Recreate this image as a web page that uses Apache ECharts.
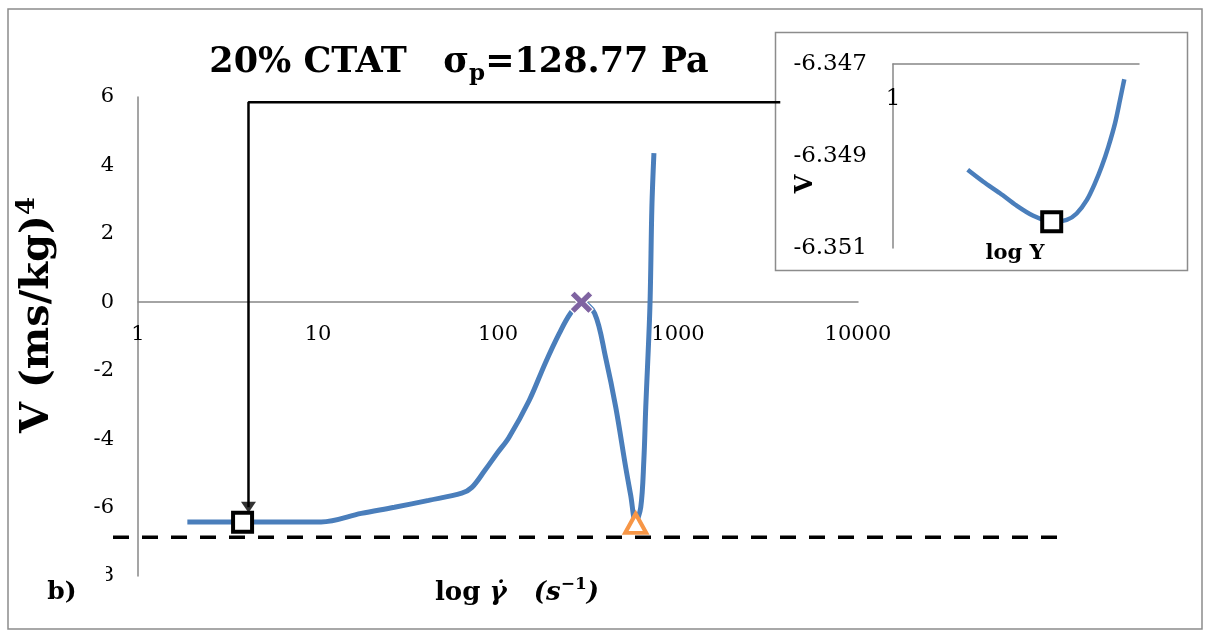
<!DOCTYPE html>
<html>
<head>
<meta charset="utf-8">
<script src="https://cdn.jsdelivr.net/npm/echarts@6/dist/echarts.min.js"></script>
<style>
html,body{margin:0;padding:0;background:#fff;}
#c{width:1206px;height:636px;}
</style>
</head>
<body>
<div id="c"></div>
<script>
// ---------- data ----------
const curveX = [1.88, 2.5, 3.81, 6, 10.4, 17.4, 26.6, 41.2, 62.9, 71.6, 84.6, 98.7, 115, 149, 183, 219, 253, 291, 344, 396, 451, 512, 546, 582, 621, 646, 662, 698, 716, 735];
const curveY = [-6.42, -6.42, -6.42, -6.42, -6.42, -6.17, -5.99, -5.79, -5.58, -5.41, -4.91, -4.42, -3.95, -2.87, -1.78, -0.91, -0.32, 0, -0.32, -1.61, -3.07, -4.82, -5.64, -6.43, -5.99, -4.62, -3.07, -0.15, 2.78, 4.36];

const squarePoint = [3.81, -6.43];
const peakPoint = [291, 0];
const troughPoint = [582, -6.46];

// dashed reference level, drawn on a wider hidden x scale (0 = left end, 1 = right end)
const dashX = [0, 1];
const dashY = -6.87;

const arrowX = [3700, 4.11, 4.11];
const arrowY = [5.85, 5.85, -5.99];

const insetX = [2.012, 2.329, 2.723, 3.183, 3.718, 4.417, 5.083, 5.580, 6.131, 6.625, 7.052, 7.505, 7.989, 8.373, 8.714];
const insetY = [-6.34930, -6.34956, -6.34981, -6.35008, -6.35030, -6.35043, -6.35039, -6.35025, -6.34996, -6.34959, -6.34923, -6.34880, -6.34829, -6.34778, -6.34733];
const insetSquare = [4.417, -6.35043];

const xTicks = [1, 10, 100, 1000, 10000];
const xTickLabels = ['1', '10', '100', '1000', '10000'];
const yTicks = [-8, -6, -4, -2, 0, 2, 4, 6];
const yTickLabels = ['-8', '-6', '-4', '-2', '0', '2', '4', '6'];
const insetYTicks = [-6.351, -6.349, -6.347];
const insetYTickLabels = ['-6.351', '-6.349', '-6.347'];
const insetXTicks = [1];
const insetXTickLabels = ['1'];

// ---------- helpers ----------
const pairs = (xs, ys) => xs.map((x, i) => [x, Array.isArray(ys) ? ys[i] : ys]);
const lookup = (ticks, labels, v, log) => {
  for (let i = 0; i < ticks.length; i++) {
    const a = log ? Math.log10(ticks[i]) : ticks[i];
    const b = log ? Math.log10(v) : v;
    if (Math.abs(a - b) < 1e-6) return labels[i];
  }
  return '';
};

const BLUE = '#4a7ebb';
const AX = '#878787';
const SERIF = '"DejaVu Serif", "Liberation Serif", serif';
const xPath = 'path://M0,4 L4,0 L10,6 L16,0 L20,4 L14,10 L20,16 L16,20 L10,14 L4,20 L0,16 L6,10 Z';

const chart = echarts.init(document.getElementById('c'), null, {renderer: 'canvas'});

const option = {
  animation: false,
  backgroundColor: '#fff',
  grid: [
    {left: 138, top: 97, width: 720, height: 479},
    {left: 893, top: 64, width: 246, height: 184},
    {left: 113, top: 97, width: 952, height: 479}
  ],
  xAxis: [
    {
      type: 'log', logBase: 10, min: 1, max: 10000, gridIndex: 0,
      offset: -274,
      axisLine: {onZero: false, lineStyle: {color: AX, width: 1.5}},
      axisTick: {show: false},
      splitLine: {show: false},
      axisLabel: {
        margin: 22, color: '#000', fontFamily: SERIF, fontSize: 21,
        formatter: v => lookup(xTicks, xTickLabels, v, true)
      }
    },
    {
      type: 'log', logBase: 10, min: 1, max: 10, gridIndex: 1, position: 'top',
      axisLine: {onZero: false, lineStyle: {color: AX, width: 1.5}},
      axisTick: {show: false},
      splitLine: {show: false},
      axisLabel: {
        inside: true, margin: 24, color: '#000', fontFamily: SERIF, fontSize: 23,
        formatter: v => lookup(insetXTicks, insetXTickLabels, v, true)
      }
    },
    {
      type: 'value', min: 0, max: 1, gridIndex: 2, show: false
    }
  ],
  yAxis: [
    {
      type: 'value', min: -8, max: 6, interval: 2, gridIndex: 0,
      axisLine: {show: true, onZero: false, lineStyle: {color: AX, width: 1.5}},
      axisTick: {show: false},
      splitLine: {show: false},
      axisLabel: {
        margin: 24, color: '#000', fontFamily: SERIF, fontSize: 21,
        formatter: v => lookup(yTicks, yTickLabels, v, false)
      }
    },
    {
      type: 'value', min: -6.351, max: -6.347, gridIndex: 1,
      axisLine: {show: true, onZero: false, lineStyle: {color: AX, width: 1.5}},
      axisTick: {show: false},
      splitLine: {show: false},
      axisLabel: {
        margin: 26, color: '#000', fontFamily: SERIF, fontSize: 23,
        customValues: insetYTicks,
        formatter: v => lookup(insetYTicks, insetYTickLabels, v, false)
      }
    },
    {
      type: 'value', min: -8, max: 6, gridIndex: 2, show: false
    }
  ],
  series: [
    {
      type: 'line', xAxisIndex: 0, yAxisIndex: 0, z: 3,
      data: pairs(curveX, curveY), smooth: 0.35, symbol: 'none',
      lineStyle: {color: BLUE, width: 5}
    },
    {
      type: 'line', xAxisIndex: 2, yAxisIndex: 2, z: 2,
      data: pairs(dashX, dashY), symbol: 'none',
      lineStyle: {color: '#000', width: 3.5, type: [16, 13]}
    },
    {
      type: 'line', xAxisIndex: 0, yAxisIndex: 0, z: 2,
      data: pairs(arrowX, arrowY), symbol: 'none',
      lineStyle: {color: '#000', width: 2.5}
    },
    {
      type: 'scatter', xAxisIndex: 0, yAxisIndex: 0, z: 4,
      data: [[arrowX[2], arrowY[2]]], symbol: 'triangle', symbolRotate: 180, symbolSize: [15, 11],
      itemStyle: {color: '#000'}
    },
    {
      type: 'scatter', xAxisIndex: 0, yAxisIndex: 0, z: 5,
      data: [squarePoint], symbol: 'rect', symbolSize: 19,
      itemStyle: {color: '#fff', borderColor: '#000', borderWidth: 4, opacity: 1}
    },
    {
      type: 'scatter', xAxisIndex: 0, yAxisIndex: 0, z: 5,
      data: [peakPoint], symbol: xPath, symbolSize: 23,
      itemStyle: {color: '#7f63a1', borderColor: '#fff', borderWidth: 1.2, opacity: 1}
    },
    {
      type: 'scatter', xAxisIndex: 0, yAxisIndex: 0, z: 5,
      data: [troughPoint], symbol: 'triangle', symbolSize: [21, 19],
      itemStyle: {color: '#fff', borderColor: '#f79646', borderWidth: 4, opacity: 1}
    },
    {
      type: 'line', xAxisIndex: 1, yAxisIndex: 1, z: 12,
      data: pairs(insetX, insetY), smooth: 0.3, symbol: 'none',
      lineStyle: {color: BLUE, width: 4.5}
    },
    {
      type: 'scatter', xAxisIndex: 1, yAxisIndex: 1, z: 13,
      data: [insetSquare], symbol: 'rect', symbolSize: 19,
      itemStyle: {color: '#fff', borderColor: '#000', borderWidth: 4, opacity: 1}
    }
  ],
  graphic: [
    {type: 'rect', z: -10, silent: true,
     shape: {x: 8, y: 9, width: 1194, height: 620},
     style: {fill: 'none', stroke: '#8c8c8c', lineWidth: 1.5}},
    {type: 'rect', z: -5, silent: true,
     shape: {x: 775.5, y: 32.5, width: 412, height: 238},
     style: {fill: '#fff', stroke: '#8c8c8c', lineWidth: 1.5}},
    {type: 'text', z: 50, silent: true, x: 459, y: 63,
     style: {
       text: '{a|20% CTAT   σ}{s|p}{a|=128.77 Pa}',
       align: 'center', verticalAlign: 'middle', textAlign: 'center', textVerticalAlign: 'middle',
       rich: {
         a: {fontFamily: SERIF, fontWeight: 'bold', fontSize: 35, lineHeight: 46, fill: '#000', verticalAlign: 'middle'},
         s: {fontFamily: SERIF, fontWeight: 'bold', fontSize: 23, lineHeight: 23, fill: '#000', verticalAlign: 'bottom'}
       }
     }},
    {type: 'text', z: 50, silent: true, x: 38, y: 315, rotation: Math.PI / 2,
     style: {
       text: '{a|V (ms/kg)}{b|4}',
       align: 'center', verticalAlign: 'middle', textAlign: 'center', textVerticalAlign: 'middle',
       rich: {
         a: {fontFamily: SERIF, fontWeight: 'bold', fontSize: 40, lineHeight: 48, fill: '#000', verticalAlign: 'middle'},
         b: {fontFamily: SERIF, fontWeight: 'bold', fontSize: 26, lineHeight: 26, fill: '#000', verticalAlign: 'top'}
       }
     }},
    {type: 'text', z: 50, silent: true, x: 517, y: 593,
     style: {
       text: '{b|log }{bi|γ̇}{i|   (s}{si|−1}{i|)}',
       align: 'center', verticalAlign: 'middle', textAlign: 'center', textVerticalAlign: 'middle',
       rich: {
         b: {fontFamily: SERIF, fontWeight: 'bold', fontSize: 26, lineHeight: 34, fill: '#000', verticalAlign: 'middle'},
         bi: {fontFamily: SERIF, fontWeight: 'bold', fontStyle: 'italic', fontSize: 26, lineHeight: 34, fill: '#000', verticalAlign: 'middle'},
         i: {fontFamily: SERIF, fontWeight: 'bold', fontStyle: 'italic', fontSize: 26, lineHeight: 34, fill: '#000', verticalAlign: 'middle'},
         si: {fontFamily: SERIF, fontWeight: 'bold', fontSize: 17, lineHeight: 17, fill: '#000', verticalAlign: 'top'}
       }
     }},
    {type: 'rect', z: 60, silent: true,
     shape: {x: 30, y: 562, width: 76, height: 27},
     style: {fill: '#fff'}},
    {type: 'text', z: 61, silent: true, x: 62, y: 592,
     style: {text: 'b)', fontFamily: SERIF, fontWeight: 'bold', fontSize: 25, fill: '#000',
             align: 'center', verticalAlign: 'middle', textAlign: 'center', textVerticalAlign: 'middle'}},
    {type: 'text', z: 50, silent: true, x: 806, y: 184, rotation: Math.PI / 2,
     style: {text: 'V', fontFamily: SERIF, fontWeight: 'bold', fontSize: 24, fill: '#000',
             align: 'center', verticalAlign: 'middle', textAlign: 'center', textVerticalAlign: 'middle'}},
    {type: 'text', z: 50, silent: true, x: 1015, y: 254,
     style: {text: 'log Υ', fontFamily: SERIF, fontWeight: 'bold', fontSize: 21, fill: '#000',
             align: 'center', verticalAlign: 'middle', textAlign: 'center', textVerticalAlign: 'middle'}}
  ]
};
chart.setOption(option);
</script>
</body>
</html>
